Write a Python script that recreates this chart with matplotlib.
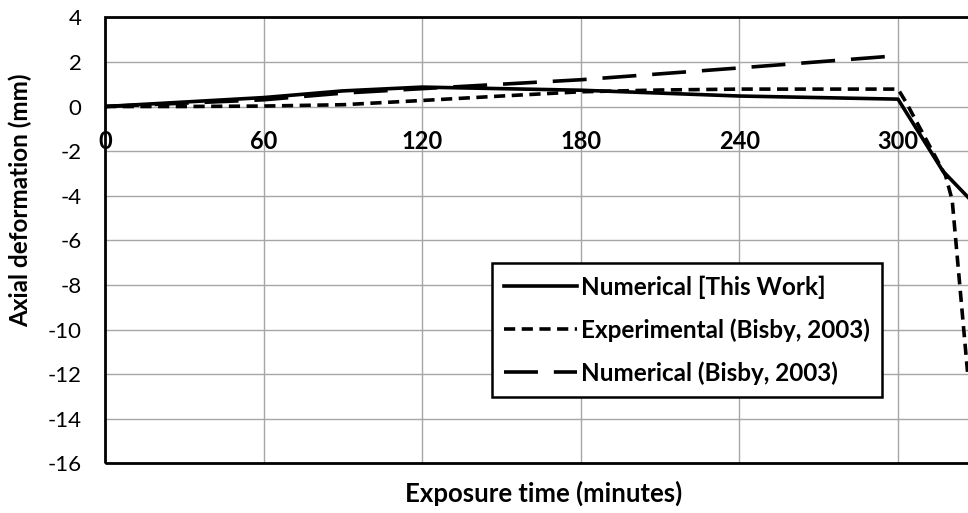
import matplotlib
matplotlib.use("Agg")
import matplotlib.pyplot as plt
from matplotlib.patches import Rectangle

plt.rcParams['font.family'] = ['Lato', 'DejaVu Sans']
plt.rcParams['axes.unicode_minus'] = False

# exposure time (min) and axial deformation (mm) for each series
t_this = [0, 60, 90, 120, 180, 240, 300, 317, 330]
d_this = [0, 0.4, 0.7, 0.87, 0.73, 0.47, 0.33, -2.9, -4.5]

t_exp = [0, 30, 60, 90, 120, 150, 180, 210, 240, 270, 300, 303, 318, 320.5, 326.3]
d_exp = [0, 0, 0.02, 0.08, 0.27, 0.47, 0.66, 0.74, 0.78, 0.78, 0.78, 0.2, -3.1, -4.2, -11.9]

t_bis = [0, 30, 60, 90, 120, 180, 240, 300]
d_bis = [0, 0.15, 0.3, 0.6, 0.8, 1.2, 1.73, 2.28]

xticks = [0, 60, 120, 180, 240, 300]
xgrid = [360]
yticks = list(range(-16, 5, 2))

W, H = 968, 513
fig = plt.figure(figsize=(W / 100, H / 100), dpi=100)
ax = fig.add_axes([105 / W, (H - 463.3) / H, 951.6 / W, 446.0 / H])

ax.plot(t_this, d_this, color='black', lw=2.6, label='Numerical [This Work]')
ax.plot(t_exp, d_exp, color='black', lw=2.6, dashes=(3.1, 1.8),
        label='Experimental (Bisby, 2003)')
ax.plot(t_bis, d_bis, color='black', lw=2.6, dashes=(9.4, 4.4),
        label='Numerical (Bisby, 2003)')

ax.set_xlim(0, 360)
ax.set_ylim(-16, 4)
ax.set_xticks(xticks)
ax.set_yticks(yticks)
ax.grid(True, color='#a6a6a6', lw=1.0)
for x in xgrid:
    ax.axvline(x, color='#a6a6a6', lw=1.0, zorder=0)
ax.set_axisbelow(True)

# horizontal axis crosses at zero, its line hidden
ax.spines['bottom'].set_position(('data', 0))
for s in ax.spines.values():
    s.set_visible(False)
ax.add_patch(Rectangle((0, 0), 1, 1, transform=ax.transAxes, fill=False,
                       lw=2.0, ec='black', clip_on=False, zorder=5))

ax.tick_params(axis='x', length=0, pad=17, labelsize=17)
ax.tick_params(axis='y', length=0, pad=17, labelsize=16)
for lab in ax.get_xticklabels():
    lab.set_fontweight('bold')

fig.text(20 / W, 1 - 200 / H, 'Axial deformation (mm)', rotation=90,
         ha='center', va='center', fontsize=17.5, fontweight='bold')
fig.text(544 / W, 1 - 493 / H, 'Exposure time (minutes)',
         ha='center', va='center', fontsize=18.5, fontweight='bold')

leg = ax.legend(loc='upper left', bbox_to_anchor=(492 / W, 1 - 263 / H),
                bbox_transform=fig.transFigure, borderaxespad=0,
                prop={'weight': 'bold', 'size': 17.5}, handlelength=3.0,
                handletextpad=0.15, labelspacing=0.8, borderpad=0.5,
                fancybox=False, framealpha=1, edgecolor='black')
leg.get_frame().set_linewidth(1.8)

fig.savefig('out.png', dpi=100)
